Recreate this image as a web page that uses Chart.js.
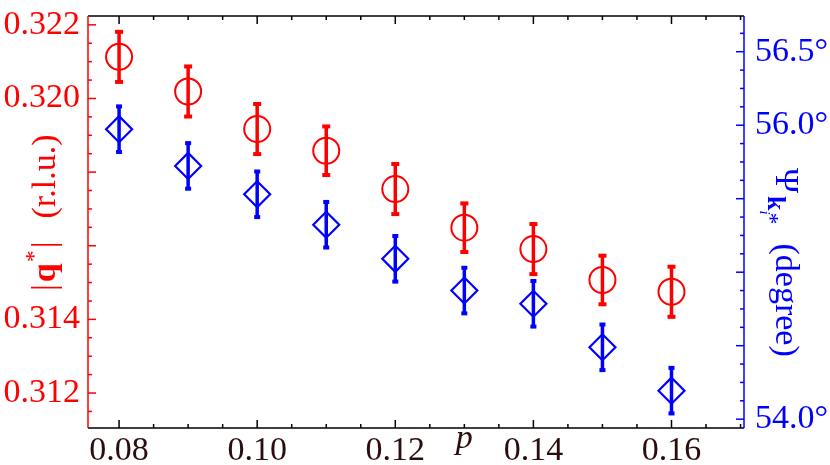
<!DOCTYPE html>
<html>
<head>
<meta charset="utf-8">
<script src="https://cdn.jsdelivr.net/npm/chart.js@4/dist/chart.umd.min.js"></script>
<style>
  html, body { margin: 0; padding: 0; background: #fff; }
</style>
</head>
<body>
<canvas id="chart" width="830" height="465"></canvas>
<script>
// values
const pValues = [0.08, 0.09, 0.10, 0.11, 0.12, 0.13, 0.14, 0.15, 0.16];
const qValues = [0.32113, 0.32019, 0.31917, 0.31858, 0.31754, 0.31649, 0.31591, 0.31507, 0.31475];
const qErrors = [0.00068, 0.00068, 0.00068, 0.00066, 0.00068, 0.00066, 0.00068, 0.00066, 0.00068];
const psiValues = [55.973, 55.723, 55.530, 55.323, 55.091, 54.875, 54.785, 54.489, 54.194];
const psiErrors = [0.155, 0.155, 0.155, 0.155, 0.155, 0.155, 0.155, 0.155, 0.155];

const xTickValues = [0.08, 0.10, 0.12, 0.14, 0.16];
const xTickLabels = ['0.08', '0.10', '0.12', '0.14', '0.16'];
const qTickValues = [0.312, 0.314, 0.320, 0.322];
const qTickLabels = ['0.312', '0.314', '0.320', '0.322'];
const psiTickValues = [54.0, 56.0, 56.5];
const psiTickLabels = ['54.0°', '56.0°', '56.5°'];

const serif = '"Liberation Serif"';
const red = '#ff0000';
const blue = '#0000ff';
const ink = '#2b0d0d';

function toPoints(xs, ys) {
    return xs.map((x, i) => ({ x: x, y: ys[i] }));
}

function drawScaleTicks(ctx, scale, minor, major, side, area, color) {
    const start = Math.ceil(scale.min / minor - 1e-6);
    const end = Math.floor(scale.max / minor + 1e-6);
    ctx.strokeStyle = color;
    ctx.lineWidth = 1.5;
    for (let i = start; i <= end; i++) {
        const v = i * minor;
        const r = v / major;
        const isMajor = Math.abs(r - Math.round(r)) < 1e-6;
        const len = isMajor ? 8 : 4;
        const p = scale.getPixelForValue(v);
        ctx.beginPath();
        if (side === 'bottom') { ctx.moveTo(p, area.bottom); ctx.lineTo(p, area.bottom - len); }
        if (side === 'top') { ctx.moveTo(p, area.top); ctx.lineTo(p, area.top + len); }
        if (side === 'left') { ctx.moveTo(area.left, p); ctx.lineTo(area.left + len, p); }
        if (side === 'right') { ctx.moveTo(area.right, p); ctx.lineTo(area.right - len, p); }
        ctx.stroke();
    }
}

function drawRich(ctx, parts) {
    let x = 0;
    parts.forEach(part => {
        ctx.font = part.font;
        x += part.gap || 0;
        ctx.fillText(part.text, x, part.dy || 0);
        if (!part.noAdvance) x += ctx.measureText(part.text).width;
    });
}

const framePlugin = {
    id: 'framePlugin',
    afterDatasetsDraw(chart) {
        const ctx = chart.ctx;
        const a = chart.chartArea;
        const xs = chart.scales.x;

        // error bars
        chart.data.datasets.forEach(ds => {
            const ys = chart.scales[ds.yAxisID];
            ctx.save();
            ctx.strokeStyle = ds.borderColor;
            ctx.fillStyle = ds.borderColor;
            ctx.lineWidth = 3.5;
            ds.data.forEach((pt, j) => {
                const px = xs.getPixelForValue(pt.x);
                const top = ys.getPixelForValue(pt.y + ds.errors[j]);
                const bot = ys.getPixelForValue(pt.y - ds.errors[j]);
                ctx.beginPath();
                ctx.moveTo(px, top);
                ctx.lineTo(px, bot);
                ctx.stroke();
                ctx.fillRect(px - ds.capWidth / 2, top - 2, ds.capWidth, 4);
                ctx.fillRect(px - ds.capWidth / 2, bot - 2, ds.capWidth, 4);
            });
            ctx.restore();
        });

        // frame and inward ticks
        ctx.save();
        drawScaleTicks(ctx, xs, 0.005, 0.02, 'bottom', a, '#000');
        drawScaleTicks(ctx, xs, 0.005, 0.02, 'top', a, '#000');
        drawScaleTicks(ctx, chart.scales.y, 0.0005, 0.002, 'left', a, red);
        drawScaleTicks(ctx, chart.scales.y2, 0.125, 0.5, 'right', a, blue);

        ctx.lineWidth = 1.5;
        ctx.strokeStyle = '#000';
        ctx.beginPath();
        ctx.moveTo(a.left, a.top); ctx.lineTo(a.right, a.top);
        ctx.moveTo(a.left, a.bottom); ctx.lineTo(a.right, a.bottom);
        ctx.stroke();
        ctx.strokeStyle = red;
        ctx.beginPath(); ctx.moveTo(a.left, a.top); ctx.lineTo(a.left, a.bottom); ctx.stroke();
        ctx.strokeStyle = blue;
        ctx.beginPath(); ctx.moveTo(a.right, a.top); ctx.lineTo(a.right, a.bottom); ctx.stroke();
        ctx.restore();

        // axis titles
        ctx.save();
        ctx.fillStyle = red;
        ctx.textBaseline = 'alphabetic';
        ctx.translate(55, 291);
        ctx.rotate(-Math.PI / 2);
        drawRich(ctx, [
            { text: '|', font: '34px ' + serif },
            { text: 'q', font: 'bold 34px ' + serif, gap: 2 },
            { text: '*', font: '24px ' + serif, dy: -14, gap: 1 },
            { text: '|', font: '34px ' + serif, gap: 2 },
            { text: '(r.l.u.)', font: '34px ' + serif, gap: 23 }
        ]);
        ctx.restore();

        ctx.save();
        ctx.fillStyle = blue;
        ctx.textBaseline = 'alphabetic';
        ctx.translate(776, 168);
        ctx.rotate(Math.PI / 2);
        drawRich(ctx, [
            { text: 'Ψ', font: '34px ' + serif },
            { text: 'k', font: 'bold 26px ' + serif, dy: 8, gap: 3 },
            { text: 'i', font: 'italic 15px ' + serif, dy: 16, noAdvance: true },
            { text: '*', font: '24px ' + serif, dy: 13, gap: 2 },
            { text: '(degree)', font: '34px ' + serif, gap: 19 }
        ]);
        ctx.restore();

        // x-axis title sitting in the tick-label row
        ctx.save();
        ctx.fillStyle = ink;
        ctx.font = 'italic 34px ' + serif;
        ctx.textAlign = 'center';
        ctx.textBaseline = 'alphabetic';
        ctx.fillText('p', xs.getPixelForValue(0.13), 448);
        ctx.restore();
    }
};

function fixedTicks(values) {
    return s => { s.ticks = values.map(v => ({ value: v })); };
}

function noOverflow(size, key) {
    return s => {
        s[key] = size;
        s.paddingTop = 0; s.paddingBottom = 0;
        s.paddingLeft = 0; s.paddingRight = 0;
    };
}

function build() {
    const ctx = document.getElementById('chart');
    new Chart(ctx, {
        type: 'scatter',
        data: {
            datasets: [
                {
                    label: '|q*|',
                    data: toPoints(pValues, qValues),
                    errors: qErrors,
                    capWidth: 8,
                    yAxisID: 'y',
                    pointStyle: 'circle',
                    pointRadius: 13,
                    pointHoverRadius: 13,
                    borderWidth: 2,
                    borderColor: red,
                    backgroundColor: 'rgba(0,0,0,0)'
                },
                {
                    label: 'Psi',
                    data: toPoints(pValues, psiValues),
                    errors: psiErrors,
                    capWidth: 6,
                    yAxisID: 'y2',
                    pointStyle: 'rectRot',
                    pointRadius: 13,
                    pointHoverRadius: 13,
                    borderWidth: 2.2,
                    borderColor: blue,
                    backgroundColor: 'rgba(0,0,0,0)'
                }
            ]
        },
        options: {
            responsive: false,
            animation: false,
            events: [],
            layout: { padding: { top: 16, left: 0, right: 0, bottom: 0 } },
            plugins: { legend: { display: false }, tooltip: { enabled: false } },
            scales: {
                x: {
                    type: 'linear',
                    min: 0.0755,
                    max: 0.1705,
                    grid: { display: false, drawTicks: false },
                    border: { display: false },
                    afterBuildTicks: fixedTicks(xTickValues),
                    afterFit: noOverflow(37, 'height'),
                    ticks: {
                        autoSkip: false,
                        padding: 3,
                        color: ink,
                        font: { family: serif, size: 34 },
                        callback: (v, i) => xTickLabels[i]
                    }
                },
                y: {
                    position: 'left',
                    min: 0.31105,
                    max: 0.32224,
                    grid: { display: false, drawTicks: false },
                    border: { display: false },
                    afterBuildTicks: fixedTicks(qTickValues),
                    afterFit: noOverflow(88, 'width'),
                    ticks: {
                        autoSkip: false,
                        padding: 8,
                        color: red,
                        font: { family: serif, size: 34 },
                        callback: (v, i) => qTickLabels[i]
                    }
                },
                y2: {
                    position: 'right',
                    min: 53.94,
                    max: 56.743,
                    grid: { display: false, drawTicks: false },
                    border: { display: false },
                    afterBuildTicks: fixedTicks(psiTickValues),
                    afterFit: noOverflow(86, 'width'),
                    ticks: {
                        autoSkip: false,
                        padding: 11,
                        color: blue,
                        font: { family: serif, size: 34 },
                        callback: (v, i) => psiTickLabels[i]
                    }
                }
            }
        },
        plugins: [framePlugin]
    });
}

Promise.all([
    document.fonts.load('32px "Liberation Serif"'),
    document.fonts.load('bold 32px "Liberation Serif"'),
    document.fonts.load('italic 32px "Liberation Serif"')
]).then(build, build);
</script>
</body>
</html>
